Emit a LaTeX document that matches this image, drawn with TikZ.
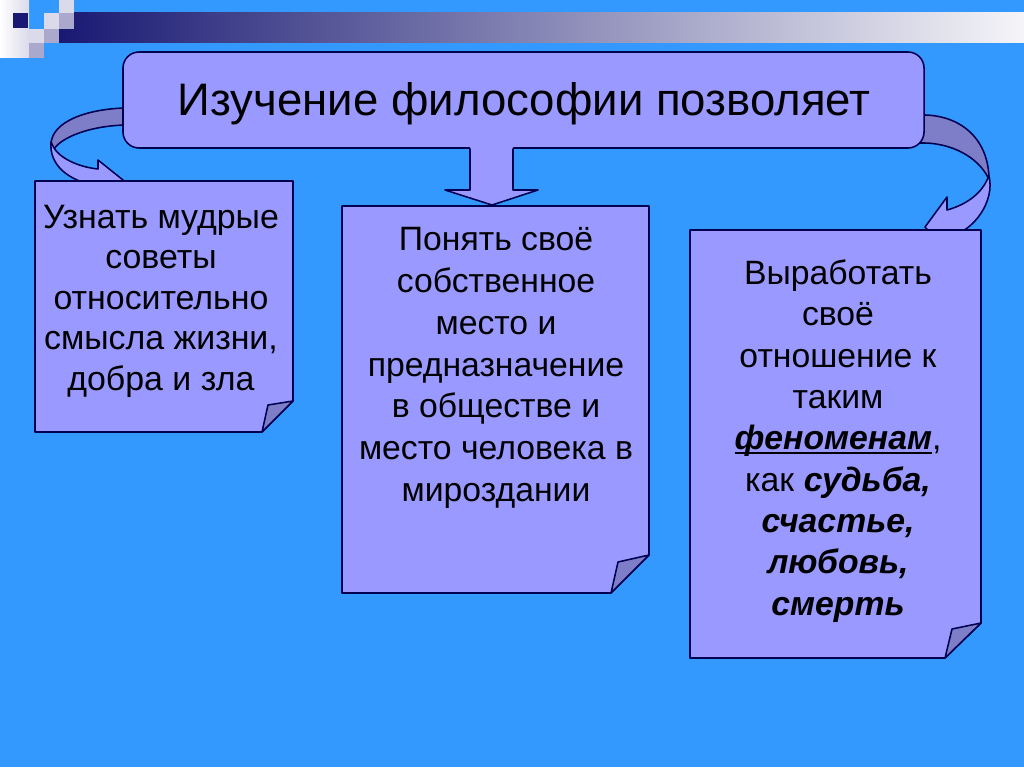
\documentclass[tikz,border=0pt]{standalone}
\usepackage{fontspec}
\setmainfont{Liberation Sans}
\definecolor{bg}{RGB}{51,153,255}
\definecolor{lav}{RGB}{153,153,255}
\definecolor{dk}{RGB}{125,125,200}
\definecolor{ln}{RGB}{0,0,80}
\definecolor{navy}{RGB}{25,25,115}
\definecolor{barmid}{RGB}{120,115,160}
\definecolor{barend}{RGB}{245,245,248}
\definecolor{sqa}{RGB}{218,218,235}
\definecolor{sqb}{RGB}{170,168,205}
\newcommand\ulword[1]{\setbox0\hbox{#1}\rlap{\rule[-3.2pt]{\wd0}{1.6pt}}\box0}
\begin{document}
\begin{tikzpicture}[x=0.25mm,y=-0.25mm,line join=round,
  edge/.style={draw=ln,line width=1.1pt},
  card/.style={edge,fill=lav},
  foldpart/.style={edge,fill=dk},
  txt/.style={align=center,inner sep=0pt,text=black}]
\fill[bg] (0,0) rectangle (1024,767);
\useasboundingbox (0,0) rectangle (1024,767);
% header band
\shade[left color=navy,middle color=barmid,right color=barend] (59,13) rectangle (1024,43);
\shade[left color=white,right color=sqa] (0,0) rectangle (29,58);
\fill[navy] (13,13) rectangle (28,28);
\fill[sqa] (29,29) rectangle (44,43);
\fill[sqb] (29,43) rectangle (44,58);
\fill[sqa] (44,13) rectangle (59,29);
\fill[sqb] (44,29) rectangle (59,43);
\fill[sqa] (59,0) rectangle (74,13);
\fill[sqb] (59,13) rectangle (74,29);
% left curved arrow (back and front)
\path[foldpart] (135,108) -- (125,108) .. controls (88,109) and (52,121) .. (51,144)
  -- (54,149) .. controls (62,137) and (90,126) .. (125,125) -- (135,125) -- cycle;
\path[card] (51,142) .. controls (49,165) and (68,181) .. (98,186) -- (99,196) -- (123,180)
  -- (98,160) -- (98,169) .. controls (78,167) and (60,158) .. (54,148) -- cycle;
% right curved arrow (back and front)
\path[foldpart] (915,115) -- (925,115) .. controls (962,116) and (989,140) .. (989,180)
  .. controls (982,162) and (958,144) .. (925,143) -- (915,143) -- cycle;
\path[card] (989,176) .. controls (995,200) and (975,232) .. (947,237) -- (947,252) -- (925,227)
  -- (947,197) -- (947,210) .. controls (965,205) and (980,195) .. (987,180) -- cycle;
% title
\node (title) [card,rounded corners=4mm,minimum width=200.25mm,minimum height=24mm] at (523.5,100) {};
\node (titletext) [txt,font=\fontsize{32.4}{40}\selectfont] at (524,104) {Изучение философии позволяет};
% down arrow
\fill[lav] (470,146) -- (470,190) -- (445,190) -- (492,205) -- (538,190) -- (513,190) -- (513,146) -- cycle;
\draw[edge] (470,148.5) -- (470,190) -- (445,190) -- (492,205) -- (538,190) -- (513,190) -- (513,148.5);
% cards
\path[card] (35,181) -- (293,181) -- (293,401) -- (262,432) -- (35,432) -- cycle;
\path[foldpart] (293,401) -- (268,405) -- (262,432) -- cycle;
\path[card] (342,206) -- (649,206) -- (649,555) -- (611,593) -- (342,593) -- cycle;
\path[foldpart] (649,555) -- (618,562) -- (611,593) -- cycle;
\path[card] (690,230) -- (981,230) -- (981,623) -- (945,658) -- (690,658) -- cycle;
\path[foldpart] (981,623) -- (952,629) -- (945,658) -- cycle;
% texts
\node (t1) [txt,font=\fontsize{24.1}{28.8}\selectfont] at (161,301)
  {Узнать мудрые\\советы\\относительно\\смысла жизни,\\добра и зла};
\node (t2) [txt,font=\fontsize{24}{29.7}\selectfont] at (496,368)
  {Понять своё\\собственное\\место и\\предназначение\\в обществе и\\место человека в\\мироздании};
\node (t3) [txt,font=\fontsize{24}{29.4}\selectfont] at (838,441)
  {Выработать\\своё\\отношение к\\таким\\\ulword{\textbf{\textit{феноменам}}},\\как \textbf{\textit{судьба,}}\\\textbf{\textit{счастье,}}\\\textbf{\textit{любовь,}}\\\textbf{\textit{смерть}}};
\end{tikzpicture}
\end{document}
